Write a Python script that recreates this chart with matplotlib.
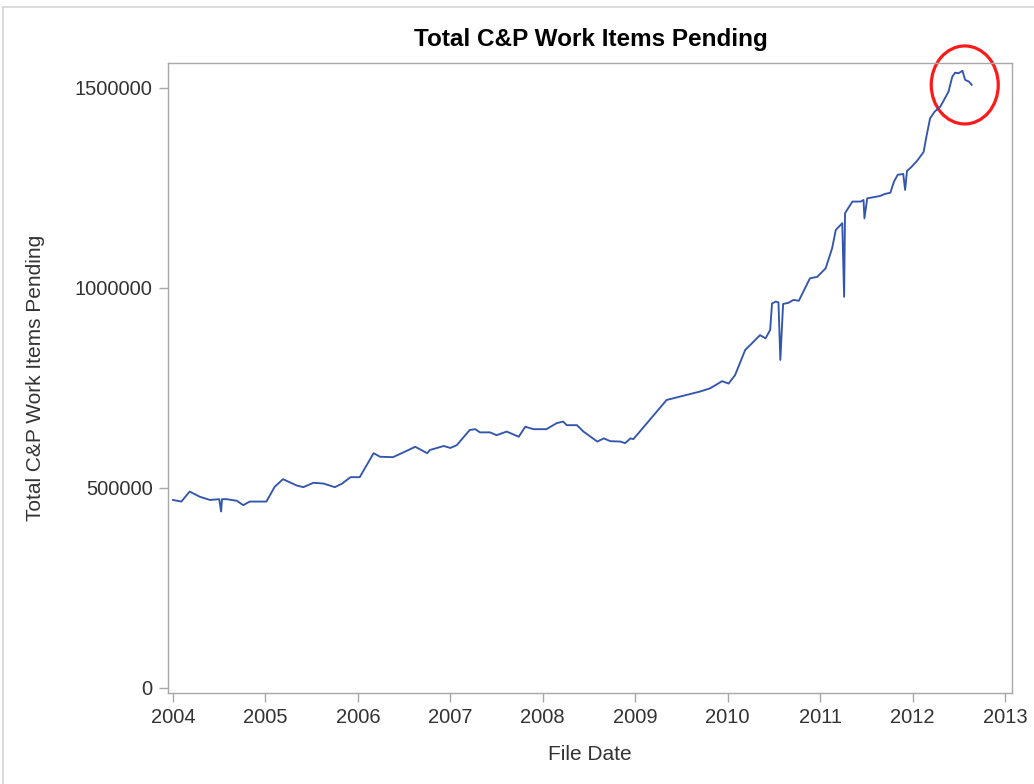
import matplotlib
matplotlib.use("Agg")
import matplotlib.pyplot as plt
from matplotlib.patches import Ellipse

plt.rcParams['font.family'] = ['Liberation Sans', 'DejaVu Sans']

# file date as decimal year, pending work items
file_date = [2004.00, 2004.09, 2004.18, 2004.29, 2004.40, 2004.50, 2004.52, 2004.53,
             2004.58, 2004.69, 2004.76, 2004.83, 2005.01, 2005.10, 2005.19, 2005.34,
             2005.41, 2005.52, 2005.63, 2005.75, 2005.83, 2005.92, 2006.02, 2006.17,
             2006.24, 2006.38, 2006.53, 2006.62, 2006.75, 2006.78, 2006.93, 2007.00,
             2007.07, 2007.21, 2007.27, 2007.32, 2007.43, 2007.50, 2007.61, 2007.74,
             2007.81, 2007.90, 2008.04, 2008.15, 2008.22, 2008.26, 2008.37, 2008.44,
             2008.59, 2008.66, 2008.73, 2008.84, 2008.89, 2008.95, 2008.98, 2009.34,
             2009.70, 2009.81, 2009.94, 2010.01, 2010.08, 2010.19, 2010.26, 2010.35,
             2010.41, 2010.46, 2010.48, 2010.52, 2010.55, 2010.57, 2010.60, 2010.66,
             2010.71, 2010.77, 2010.89, 2010.97, 2011.06, 2011.13, 2011.17, 2011.24,
             2011.26, 2011.27, 2011.35, 2011.44, 2011.47, 2011.48, 2011.51, 2011.58,
             2011.65, 2011.70, 2011.76, 2011.80, 2011.84, 2011.90, 2011.92, 2011.94,
             2011.99, 2012.05, 2012.12, 2012.15, 2012.19, 2012.24, 2012.30, 2012.35,
             2012.39, 2012.43, 2012.46, 2012.50, 2012.54, 2012.57, 2012.61, 2012.64]
pending = [470000, 466000, 491000, 478000, 470000, 472000, 441000, 472000,
           472000, 468000, 457000, 466000, 466000, 503000, 522000, 506000,
           502000, 513000, 511000, 502000, 511000, 527000, 527000, 587000,
           578000, 577000, 593000, 603000, 587000, 595000, 605000, 600000,
           607000, 645000, 647000, 639000, 639000, 632000, 641000, 628000,
           653000, 647000, 647000, 662000, 666000, 657000, 657000, 641000,
           616000, 624000, 617000, 616000, 612000, 624000, 622000, 720000,
           741000, 749000, 767000, 761000, 782000, 845000, 861000, 882000,
           874000, 895000, 961000, 966000, 964000, 820000, 960000, 963000,
           970000, 968000, 1024000, 1028000, 1049000, 1099000, 1145000, 1162000,
           978000, 1187000, 1216000, 1216000, 1220000, 1174000, 1224000, 1227000,
           1230000, 1235000, 1238000, 1266000, 1283000, 1285000, 1245000, 1292000,
           1303000, 1318000, 1340000, 1378000, 1424000, 1441000, 1453000, 1474000,
           1491000, 1528000, 1538000, 1537000, 1543000, 1520000, 1516000, 1508000]

years = list(range(2004, 2014))
yticks = [0, 500000, 1000000, 1500000]

fig = plt.figure(figsize=(10.34, 7.84), dpi=100)
ax = fig.add_axes([0.1625, 0.1161, 0.8162, 0.8036])

ax.plot(file_date, pending, color='#3356ad', linewidth=1.35)

# highlight around the peak
ax.add_patch(Ellipse((2012.565, 1507500), 0.725, 195000, fill=False,
                     edgecolor='#ff1a1a', linewidth=2.3, clip_on=False))

ax.set_xlim(2003.946, 2013.076)
ax.set_ylim(-12500, 1562500)
ax.set_xticks(years)
ax.set_xticklabels([str(y) for y in years])
ax.set_yticks(yticks)
ax.set_yticklabels([str(v) for v in yticks])

for s in ax.spines.values():
    s.set_color('#a8a8a8')
    s.set_linewidth(1.0)
ax.tick_params(colors='#a8a8a8', labelcolor='#333333', labelsize=14.5,
               length=6.5, width=1.0, pad=4.5)

ax.set_xlabel('File Date', fontsize=15, color='#333333')
ax.set_ylabel('Total C&P Work Items Pending', fontsize=15, color='#333333')
ax.xaxis.set_label_coords(0.5, -0.082)
ax.yaxis.set_label_coords(-0.146, 0.5)

fig.text(0.5717, 0.949, 'Total C&P Work Items Pending', ha='center', va='center',
         fontsize=17.5, fontweight='bold', color='black')

# faint screenshot frame
fig.add_artist(plt.Line2D([0.003, 1.0], [0.991, 0.991], color='#d4d4d4', linewidth=1.2))
fig.add_artist(plt.Line2D([0.003, 0.003], [0.0, 0.991], color='#d4d4d4', linewidth=1.2))

fig.savefig('out.png', dpi=100)
